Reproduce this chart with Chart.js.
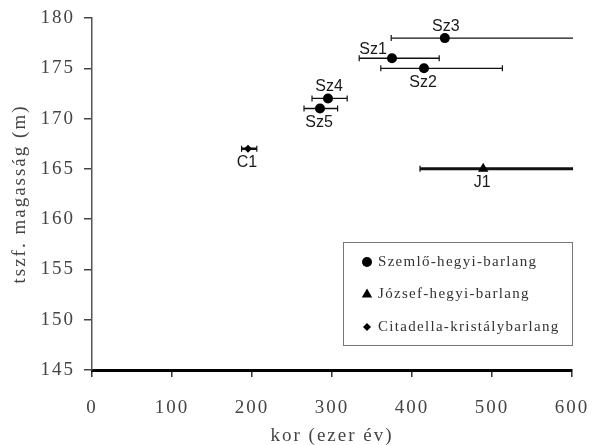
<!DOCTYPE html>
<html>
<head>
<meta charset="utf-8">
<script src="https://cdn.jsdelivr.net/npm/chart.js@4"></script>
<style>
  html, body { margin: 0; padding: 0; background: #fff; }
  #wrap { width: 595px; height: 445px; }
</style>
</head>
<body>
<div id="wrap"><canvas id="grafico" width="595" height="445"></canvas></div>
<script>
// Szemlő-hegyi-barlang
const szNevek = ['Sz1', 'Sz2', 'Sz3', 'Sz4', 'Sz5'];
const szKor = [375, 415, 441, 295, 285];
const szMagassag = [176, 175, 178, 172, 171];
const szKorMin = [334, 361, 374, 275, 265];
const szKorMax = [434, 513, 640, 319, 307];
const szCimkeHely = ['balfent', 'lent', 'fent', 'fent', 'lent'];

// József-hegyi-barlang
const jNevek = ['J1'];
const jKor = [489];
const jMagassag = [165];
const jKorMin = [410];
const jKorMax = [640];
const jCimkeHely = ['lent'];

// Citadella-kristálybarlang
const cNevek = ['C1'];
const cKor = [195];
const cMagassag = [167];
const cKorMin = [187];
const cKorMax = [206];
const cCimkeHely = ['lent'];

const xTicks = [0, 100, 200, 300, 400, 500, 600];
const yTicks = [145, 150, 155, 160, 165, 170, 175, 180];

const serif = '"Liberation Serif", "Times New Roman", serif';

function pontok(kor, mag, min, max, nevek, hely) {
  return kor.map((x, i) => ({ x: x, y: mag[i], xMin: min[i], xMax: max[i], nev: nevek[i], hely: hely[i] }));
}

// a régi ábra betűi szélesebbek, ezért betűközt adunk
const betukoz = {
  id: 'betukoz',
  beforeDraw(chart) { chart.ctx.letterSpacing = '2px'; },
  afterDraw(chart) { chart.ctx.letterSpacing = '0px'; }
};

const hibaVonalak = {
  id: 'hibaVonalak',
  beforeDatasetsDraw(chart) {
    const ctx = chart.ctx;
    const xs = chart.scales.x, ys = chart.scales.y;
    const ca = chart.chartArea;
    ctx.save();
    ctx.beginPath();
    ctx.rect(ca.left, ca.top - 10, ca.right - ca.left + 1, ca.bottom - ca.top + 10);
    ctx.clip();
    chart.data.datasets.forEach(ds => {
      ds.data.forEach(p => {
        const py = ys.getPixelForValue(p.y);
        const x1 = xs.getPixelForValue(p.xMin);
        const x2 = xs.getPixelForValue(p.xMax);
        ctx.strokeStyle = '#111';
        ctx.lineWidth = ds.hibaVastag;
        ctx.beginPath();
        ctx.moveTo(x1, py); ctx.lineTo(x2, py);
        ctx.stroke();
        ctx.lineWidth = 1.2;
        ctx.beginPath();
        ctx.moveTo(x1, py - 3); ctx.lineTo(x1, py + 3);
        ctx.moveTo(x2, py - 3); ctx.lineTo(x2, py + 3);
        ctx.stroke();
      });
    });
    ctx.restore();
  },
  afterDatasetsDraw(chart) {
    const ctx = chart.ctx;
    const xs = chart.scales.x, ys = chart.scales.y;
    ctx.save();
    ctx.letterSpacing = '0px';
    ctx.font = '16px "Liberation Sans", Arial, sans-serif';
    ctx.fillStyle = '#1a1a1a';
    ctx.textAlign = 'center';
    ctx.textBaseline = 'middle';
    chart.data.datasets.forEach(ds => {
      ds.data.forEach(p => {
        const px = xs.getPixelForValue(p.x);
        const py = ys.getPixelForValue(p.y);
        if (p.hely === 'fent') ctx.fillText(p.nev, px + 1, py - 12);
        else if (p.hely === 'lent') ctx.fillText(p.nev, px - 1, py + 14);
        else ctx.fillText(p.nev, px - 19, py - 9);
      });
    });

    // jelmagyarázat
    const bal = 343, fent = 242, szel = 229, mag = 103;
    ctx.fillStyle = '#fff';
    ctx.fillRect(bal, fent, szel, mag);
    ctx.strokeStyle = '#777';
    ctx.lineWidth = 1;
    ctx.strokeRect(bal + 0.5, fent + 0.5, szel, mag);
    ctx.font = '15px ' + serif;
    ctx.letterSpacing = '1.3px';
    ctx.textAlign = 'left';
    chart.data.datasets.forEach((ds, i) => {
      const ly = fent + 20 + i * 32.5;
      ctx.fillStyle = '#000';
      ctx.strokeStyle = '#000';
      Chart.helpers.drawPoint(ctx, {
        pointStyle: ds.pointStyle, radius: ds.pointRadius, borderWidth: 0
      }, 367, ly);
      ctx.fillStyle = '#333';
      ctx.fillText(ds.label, 378, ly);
    });
    ctx.restore();
  }
};

new Chart(document.getElementById('grafico'), {
  type: 'scatter',
  data: {
    datasets: [
      {
        label: 'Szemlő-hegyi-barlang',
        data: pontok(szKor, szMagassag, szKorMin, szKorMax, szNevek, szCimkeHely),
        pointStyle: 'circle', pointRadius: 5,
        backgroundColor: '#000', borderColor: '#000', borderWidth: 0,
        hibaVastag: 1.3
      },
      {
        label: 'József-hegyi-barlang',
        data: pontok(jKor, jMagassag, jKorMin, jKorMax, jNevek, jCimkeHely),
        pointStyle: 'triangle', pointRadius: 6,
        backgroundColor: '#000', borderColor: '#000', borderWidth: 0,
        hibaVastag: 3
      },
      {
        label: 'Citadella-kristálybarlang',
        data: pontok(cKor, cMagassag, cKorMin, cKorMax, cNevek, cCimkeHely),
        pointStyle: 'rectRot', pointRadius: 4,
        backgroundColor: '#000', borderColor: '#000', borderWidth: 0,
        hibaVastag: 2.5
      }
    ]
  },
  options: {
    responsive: false,
    animation: false,
    layout: { padding: { top: 18, right: 23, left: 0, bottom: 0 } },
    plugins: {
      legend: { display: false },
      tooltip: { enabled: false }
    },
    scales: {
      x: {
        type: 'linear', min: 0, max: 600,
        afterBuildTicks: s => { s.ticks = xTicks.map(v => ({ value: v })); },
        afterFit: s => { s.height = 75; s.paddingLeft = 0; s.paddingRight = 0; },
        border: { display: true, color: '#000', width: 3 },
        grid: { display: true, drawOnChartArea: false, drawTicks: true, tickLength: 7, color: '#333', lineWidth: 1.5 },
        ticks: { color: '#444', padding: 20, font: { family: serif, size: 19 } },
        title: { display: true, text: 'kor (ezer év)', color: '#444', padding: { top: 0, bottom: -2 }, font: { family: serif, size: 19 } }
      },
      y: {
        type: 'linear', min: 145, max: 180,
        afterBuildTicks: s => { s.ticks = yTicks.map(v => ({ value: v })); },
        afterFit: s => { s.width = 92; s.paddingTop = 0; s.paddingBottom = 0; },
        border: { display: true, color: '#555', width: 1.5 },
        grid: { display: true, drawOnChartArea: false, drawTicks: true, tickLength: 8, color: '#444', lineWidth: 1.5 },
        ticks: { color: '#444', padding: 9, font: { family: serif, size: 19 } },
        title: { display: true, text: 'tszf. magasság (m)', color: '#444', padding: { top: 9, bottom: 0 }, font: { family: serif, size: 19 } }
      }
    }
  },
  plugins: [betukoz, hibaVonalak]
});
</script>
</body>
</html>
